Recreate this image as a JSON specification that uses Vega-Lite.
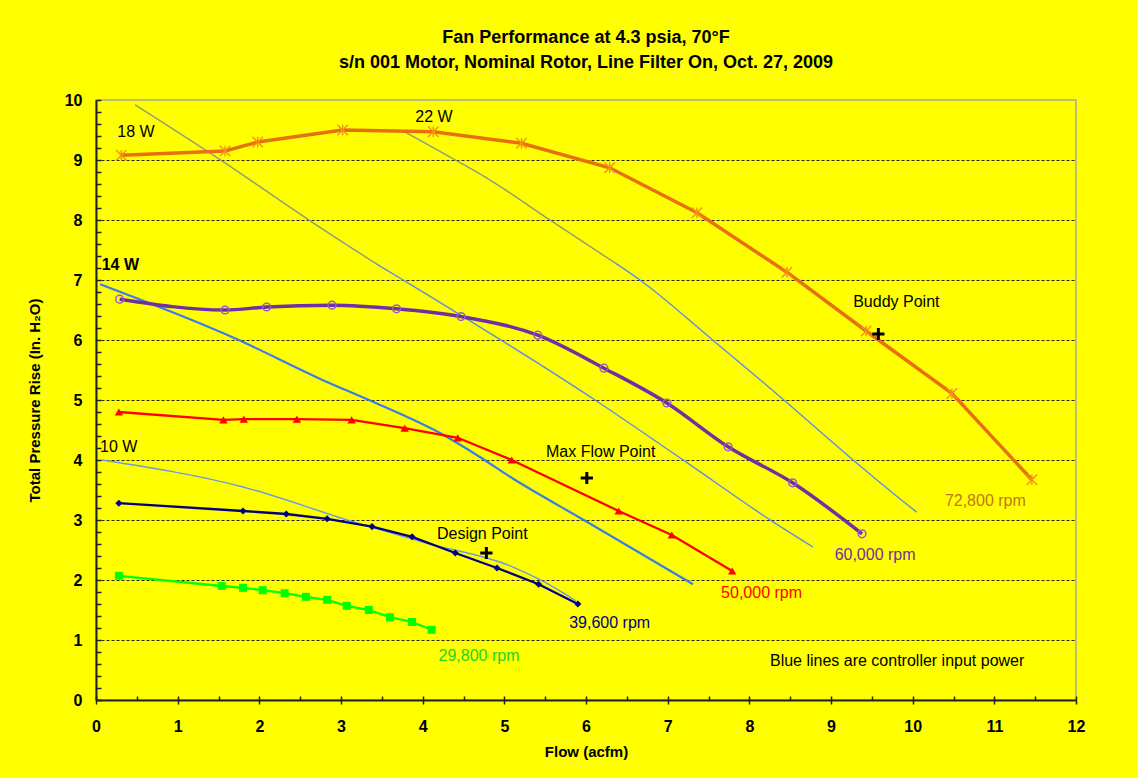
{
  "$schema": "https://vega.github.io/schema/vega-lite/v6.json",
  "width": 980,
  "height": 600,
  "autosize": "none",
  "padding": {"left": 96, "top": 100, "right": 62, "bottom": 78},
  "background": "#ffff00",
  "title": {
    "text": ["Fan Performance at 4.3 psia, 70°F", "s/n 001 Motor, Nominal Rotor, Line Filter On, Oct. 27, 2009"],
    "font": "Liberation Sans",
    "fontSize": 18,
    "fontWeight": "bold",
    "lineHeight": 25,
    "anchor": "middle",
    "frame": "group",
    "offset": 20,
    "color": "#000000"
  },
  "config": {
    "view": {"stroke": "#a8a8a8", "strokeWidth": 1.5},
    "font": "Liberation Sans"
  },
  "datasets": {
    "curves": [
      {"s": "72800", "flow": 0.31, "p": 9.08},
      {"s": "72800", "flow": 1.58, "p": 9.15},
      {"s": "72800", "flow": 1.98, "p": 9.3},
      {"s": "72800", "flow": 3.02, "p": 9.5},
      {"s": "72800", "flow": 4.13, "p": 9.47},
      {"s": "72800", "flow": 5.21, "p": 9.28},
      {"s": "72800", "flow": 6.29, "p": 8.87},
      {"s": "72800", "flow": 7.36, "p": 8.12},
      {"s": "72800", "flow": 8.46, "p": 7.13},
      {"s": "72800", "flow": 9.43, "p": 6.15},
      {"s": "72800", "flow": 10.48, "p": 5.11},
      {"s": "72800", "flow": 11.46, "p": 3.67},
      {"s": "60000", "flow": 0.29, "p": 6.68},
      {"s": "60000", "flow": 1.58, "p": 6.5},
      {"s": "60000", "flow": 2.09, "p": 6.55},
      {"s": "60000", "flow": 2.89, "p": 6.58},
      {"s": "60000", "flow": 3.68, "p": 6.52},
      {"s": "60000", "flow": 4.47, "p": 6.39},
      {"s": "60000", "flow": 5.41, "p": 6.08},
      {"s": "60000", "flow": 6.22, "p": 5.53},
      {"s": "60000", "flow": 6.99, "p": 4.95},
      {"s": "60000", "flow": 7.74, "p": 4.22},
      {"s": "60000", "flow": 8.53, "p": 3.62},
      {"s": "60000", "flow": 9.38, "p": 2.77},
      {"s": "50000", "flow": 0.28, "p": 4.8},
      {"s": "50000", "flow": 1.56, "p": 4.67},
      {"s": "50000", "flow": 1.81, "p": 4.68},
      {"s": "50000", "flow": 2.46, "p": 4.68},
      {"s": "50000", "flow": 3.13, "p": 4.67},
      {"s": "50000", "flow": 3.78, "p": 4.53},
      {"s": "50000", "flow": 4.43, "p": 4.37},
      {"s": "50000", "flow": 5.09, "p": 4.0},
      {"s": "50000", "flow": 6.4, "p": 3.15},
      {"s": "50000", "flow": 7.05, "p": 2.75},
      {"s": "50000", "flow": 7.79, "p": 2.15},
      {"s": "39600", "flow": 0.28, "p": 3.28},
      {"s": "39600", "flow": 1.8, "p": 3.15},
      {"s": "39600", "flow": 2.33, "p": 3.1},
      {"s": "39600", "flow": 2.83, "p": 3.02},
      {"s": "39600", "flow": 3.38, "p": 2.89},
      {"s": "39600", "flow": 3.87, "p": 2.72},
      {"s": "39600", "flow": 4.4, "p": 2.45},
      {"s": "39600", "flow": 4.91, "p": 2.2},
      {"s": "39600", "flow": 5.42, "p": 1.93},
      {"s": "39600", "flow": 5.9, "p": 1.6},
      {"s": "29800", "flow": 0.28, "p": 2.07},
      {"s": "29800", "flow": 1.54, "p": 1.9},
      {"s": "29800", "flow": 1.8, "p": 1.87},
      {"s": "29800", "flow": 2.04, "p": 1.83},
      {"s": "29800", "flow": 2.31, "p": 1.78},
      {"s": "29800", "flow": 2.57, "p": 1.72},
      {"s": "29800", "flow": 2.83, "p": 1.67},
      {"s": "29800", "flow": 3.07, "p": 1.57},
      {"s": "29800", "flow": 3.34, "p": 1.5},
      {"s": "29800", "flow": 3.6, "p": 1.38},
      {"s": "29800", "flow": 3.87, "p": 1.3},
      {"s": "29800", "flow": 4.11, "p": 1.17},
      {"s": "18Wa", "flow": 0.48, "p": 9.92},
      {"s": "18Wa", "flow": 1.56, "p": 8.97},
      {"s": "18Wa", "flow": 2.64, "p": 7.97},
      {"s": "18Wa", "flow": 3.42, "p": 7.28},
      {"s": "18Wb", "flow": 3.42, "p": 7.28},
      {"s": "18Wb", "flow": 3.76, "p": 7.0},
      {"s": "18Wb", "flow": 4.46, "p": 6.42},
      {"s": "18Wb", "flow": 6.11, "p": 5.0},
      {"s": "18Wb", "flow": 7.21, "p": 3.98},
      {"s": "18Wb", "flow": 8.29, "p": 2.97},
      {"s": "18Wb", "flow": 8.78, "p": 2.55},
      {"s": "22Wa", "flow": 3.78, "p": 9.47},
      {"s": "22Wa", "flow": 4.4, "p": 9.0},
      {"s": "22Wa", "flow": 4.82, "p": 8.67},
      {"s": "22Wa", "flow": 5.58, "p": 7.98},
      {"s": "22Wa", "flow": 6.36, "p": 7.28},
      {"s": "22Wb", "flow": 6.36, "p": 7.28},
      {"s": "22Wb", "flow": 6.66, "p": 7.0},
      {"s": "22Wb", "flow": 7.55, "p": 6.0},
      {"s": "22Wb", "flow": 8.38, "p": 5.05},
      {"s": "22Wb", "flow": 9.27, "p": 4.0},
      {"s": "22Wb", "flow": 9.82, "p": 3.38},
      {"s": "22Wb", "flow": 10.05, "p": 3.13},
      {"s": "14W", "flow": 0.05, "p": 6.93},
      {"s": "14W", "flow": 1.7, "p": 6.03},
      {"s": "14W", "flow": 2.78, "p": 5.33},
      {"s": "14W", "flow": 3.39, "p": 4.97},
      {"s": "14W", "flow": 4.25, "p": 4.42},
      {"s": "14W", "flow": 4.7, "p": 4.05},
      {"s": "14W", "flow": 5.07, "p": 3.72},
      {"s": "14W", "flow": 6.01, "p": 2.97},
      {"s": "14W", "flow": 7.31, "p": 1.93},
      {"s": "10W", "flow": 0.07, "p": 4.0},
      {"s": "10W", "flow": 1.8, "p": 3.55},
      {"s": "10W", "flow": 3.15, "p": 2.97},
      {"s": "10W", "flow": 4.0, "p": 2.63},
      {"s": "10W", "flow": 5.1, "p": 2.22},
      {"s": "10W", "flow": 5.5, "p": 1.96},
      {"s": "10W", "flow": 5.88, "p": 1.65}
    ],
    "plus": [
      {"name": "Buddy Point", "flow": 9.58, "p": 6.1},
      {"name": "Max Flow Point", "flow": 6.01, "p": 3.7},
      {"name": "Design Point", "flow": 4.78, "p": 2.45}
    ],
    "labels": [
      {"t": "Buddy Point", "flow": 9.8, "p": 6.63, "k": "black", "g": "c"},
      {"t": "Max Flow Point", "flow": 6.18, "p": 4.13, "k": "black", "g": "c"},
      {"t": "Design Point", "flow": 4.73, "p": 2.77, "k": "black", "g": "c"},
      {"t": "72,800 rpm", "flow": 10.89, "p": 3.32, "k": "L72800", "g": "c"},
      {"t": "60,000 rpm", "flow": 9.54, "p": 2.42, "k": "L60000", "g": "c"},
      {"t": "50,000 rpm", "flow": 8.15, "p": 1.78, "k": "L50000", "g": "c"},
      {"t": "39,600 rpm", "flow": 6.29, "p": 1.28, "k": "L39600", "g": "c"},
      {"t": "29,800 rpm", "flow": 4.69, "p": 0.73, "k": "L29800", "g": "c"},
      {"t": "Blue lines are controller input power", "flow": 9.81, "p": 0.65, "k": "black", "g": "c"},
      {"t": "18 W", "flow": 0.26, "p": 9.47, "k": "black", "g": "l"},
      {"t": "22 W", "flow": 3.91, "p": 9.72, "k": "black", "g": "l"},
      {"t": "10 W", "flow": 0.05, "p": 4.22, "k": "black", "g": "l"},
      {"t": "14 W", "flow": 0.07, "p": 7.25, "k": "black", "g": "b"}
    ]
  },
  "resolve": {"axis": {"x": "independent", "y": "independent"}},
  "layer": [
    {
      "data": {"name": "curves"},
      "mark": {"type": "point", "opacity": 0},
      "encoding": {
        "x": {"field": "flow", "type": "quantitative", "scale": {"domain": [0, 12], "nice": false}, "axis": null},
        "y": {"field": "p", "type": "quantitative", "scale": {"domain": [0, 10], "nice": false},
          "axis": {"orient": "left", "values": [1, 2, 3, 4, 5, 6, 7, 8, 9], "grid": true, "gridColor": "#000000", "gridDash": [3, 2], "gridWidth": 1, "gridOpacity": 0.85, "labels": false, "ticks": false, "domain": false, "title": null}}
      }
    },
    {
      "data": {"name": "curves"},
      "transform": [{"filter": {"field": "s", "oneOf": ["18Wa", "18Wb", "22Wa", "22Wb", "10W"]}}],
      "mark": {"type": "line", "strokeWidth": 1.4, "interpolate": "monotone"},
      "encoding": {
        "x": {"field": "flow", "type": "quantitative", "axis": null},
        "y": {"field": "p", "type": "quantitative", "axis": null},
        "detail": {"field": "s"},
        "color": {"field": "s", "type": "nominal", "legend": null,
          "scale": {"domain": ["72800", "60000", "50000", "39600", "29800", "18Wa", "18Wb", "22Wa", "22Wb", "14W", "10W", "L72800", "L60000", "L50000", "L39600", "L29800", "black"],
                    "range": ["#e8700e", "#7030a0", "#ff0000", "#000080", "#00ff00", "#8f9c78", "#5b8fe0", "#8f9c78", "#5b8fe0", "#3a7ee2", "#6c9ae2", "#c07818", "#7030a0", "#ff0000", "#000080", "#22d622", "#000000"]}}
      }
    },
    {
      "data": {"name": "curves"},
      "transform": [{"filter": {"field": "s", "oneOf": ["14W"]}}],
      "mark": {"type": "line", "strokeWidth": 2.2, "interpolate": "monotone"},
      "encoding": {
        "x": {"field": "flow", "type": "quantitative", "axis": null},
        "y": {"field": "p", "type": "quantitative", "axis": null},
        "color": {"field": "s", "type": "nominal", "legend": null}
      }
    },
    {
      "data": {"name": "curves"},
      "transform": [{"filter": {"field": "s", "oneOf": ["50000", "39600", "29800"]}}],
      "mark": {"type": "line", "strokeWidth": 2.3, "interpolate": "linear"},
      "encoding": {
        "x": {"field": "flow", "type": "quantitative", "axis": null},
        "y": {"field": "p", "type": "quantitative", "axis": null},
        "color": {"field": "s", "type": "nominal", "legend": null}
      }
    },
    {
      "data": {"name": "curves"},
      "transform": [{"filter": {"field": "s", "oneOf": ["72800"]}}],
      "mark": {"type": "line", "strokeWidth": 3.5, "interpolate": "linear"},
      "encoding": {
        "x": {"field": "flow", "type": "quantitative", "axis": null},
        "y": {"field": "p", "type": "quantitative", "axis": null},
        "color": {"field": "s", "type": "nominal", "legend": null}
      }
    },
    {
      "data": {"name": "curves"},
      "transform": [{"filter": {"field": "s", "oneOf": ["60000"]}}],
      "mark": {"type": "line", "strokeWidth": 3.5, "interpolate": "monotone"},
      "encoding": {
        "x": {"field": "flow", "type": "quantitative",
          "axis": {"orient": "bottom", "values": [0, 1, 2, 3, 4, 5, 6, 7, 8, 9, 10, 11, 12], "grid": false, "labelFlush": false, "domainColor": "#222222", "domainWidth": 2, "tickColor": "#222222", "tickWidth": 1.5, "tickSize": 4, "labelPadding": 14, "labelFont": "Liberation Sans", "labelFontSize": 16, "labelFontWeight": "bold", "labelColor": "#000000", "title": "Flow (acfm)", "titleFont": "Liberation Sans", "titleFontSize": 15, "titleFontWeight": "bold", "titleColor": "#000000", "titlePadding": 10}},
        "y": {"field": "p", "type": "quantitative",
          "axis": {"orient": "left", "values": [0, 1, 2, 3, 4, 5, 6, 7, 8, 9, 10], "grid": false, "labelFlush": false, "domainColor": "#222222", "domainWidth": 2, "ticks": false, "labelPadding": 14, "labelFont": "Liberation Sans", "labelFontSize": 16, "labelFontWeight": "bold", "labelColor": "#000000", "title": "Total Pressure Rise (In. H₂O)", "titleFont": "Liberation Sans", "titleFontSize": 15, "titleFontWeight": "bold", "titleColor": "#000000", "titlePadding": 22}},
        "color": {"field": "s", "type": "nominal", "legend": null}
      }
    },
    {
      "data": {"name": "curves"},
      "transform": [{"filter": {"field": "s", "equal": "72800"}}],
      "mark": {"type": "point", "shape": "M-1,-1L1,1M-1,1L1,-1M0,-1L0,1", "filled": false, "stroke": "#f5901c", "strokeWidth": 1.4, "size": 110, "opacity": 1},
      "encoding": {
        "x": {"field": "flow", "type": "quantitative", "axis": null},
        "y": {"field": "p", "type": "quantitative", "axis": null}
      }
    },
    {
      "data": {"name": "curves"},
      "transform": [{"filter": {"field": "s", "equal": "60000"}}],
      "mark": {"type": "point", "shape": "circle", "filled": false, "stroke": "#9a5cc8", "strokeWidth": 1.5, "size": 60, "opacity": 1},
      "encoding": {
        "x": {"field": "flow", "type": "quantitative", "axis": null},
        "y": {"field": "p", "type": "quantitative", "axis": null}
      }
    },
    {
      "data": {"name": "curves"},
      "transform": [{"filter": {"field": "s", "equal": "50000"}}],
      "mark": {"type": "point", "shape": "triangle-up", "filled": true, "color": "#ff0000", "size": 70, "opacity": 1},
      "encoding": {
        "x": {"field": "flow", "type": "quantitative", "axis": null},
        "y": {"field": "p", "type": "quantitative", "axis": null}
      }
    },
    {
      "data": {"name": "curves"},
      "transform": [{"filter": {"field": "s", "equal": "39600"}}],
      "mark": {"type": "point", "shape": "diamond", "filled": true, "color": "#000080", "size": 50, "opacity": 1},
      "encoding": {
        "x": {"field": "flow", "type": "quantitative", "axis": null},
        "y": {"field": "p", "type": "quantitative", "axis": null}
      }
    },
    {
      "data": {"name": "curves"},
      "transform": [{"filter": {"field": "s", "equal": "29800"}}],
      "mark": {"type": "point", "shape": "square", "filled": true, "color": "#00ff00", "size": 64, "opacity": 1},
      "encoding": {
        "x": {"field": "flow", "type": "quantitative", "axis": null},
        "y": {"field": "p", "type": "quantitative", "axis": null}
      }
    },
    {
      "data": {"name": "plus"},
      "mark": {"type": "point", "shape": "M-1,0L1,0M0,-1L0,1", "filled": false, "stroke": "#000000", "strokeWidth": 3, "size": 150, "opacity": 1},
      "encoding": {
        "x": {"field": "flow", "type": "quantitative", "axis": null},
        "y": {"field": "p", "type": "quantitative", "axis": null}
      }
    },
    {
      "data": {"name": "labels"},
      "transform": [{"filter": {"field": "g", "equal": "c"}}],
      "mark": {"type": "text", "align": "center", "baseline": "middle", "font": "Liberation Sans", "fontSize": 16},
      "encoding": {
        "x": {"field": "flow", "type": "quantitative", "axis": null},
        "y": {"field": "p", "type": "quantitative", "axis": null},
        "text": {"field": "t"},
        "color": {"field": "k", "type": "nominal", "legend": null}
      }
    },
    {
      "data": {"name": "labels"},
      "transform": [{"filter": {"field": "g", "equal": "l"}}],
      "mark": {"type": "text", "align": "left", "baseline": "middle", "font": "Liberation Sans", "fontSize": 16},
      "encoding": {
        "x": {"field": "flow", "type": "quantitative", "axis": null},
        "y": {"field": "p", "type": "quantitative", "axis": null},
        "text": {"field": "t"},
        "color": {"field": "k", "type": "nominal", "legend": null}
      }
    },
    {
      "data": {"name": "labels"},
      "transform": [{"filter": {"field": "g", "equal": "b"}}],
      "mark": {"type": "text", "align": "left", "baseline": "middle", "font": "Liberation Sans", "fontSize": 16, "fontWeight": "bold"},
      "encoding": {
        "x": {"field": "flow", "type": "quantitative", "axis": null},
        "y": {"field": "p", "type": "quantitative", "axis": null},
        "text": {"field": "t"},
        "color": {"field": "k", "type": "nominal", "legend": null}
      }
    },
    {
      "data": {"name": "curves"},
      "mark": {"type": "point", "opacity": 0},
      "encoding": {
        "x": {"field": "flow", "type": "quantitative",
          "axis": {"orient": "bottom", "values": [0, 0.5, 1, 1.5, 2, 2.5, 3, 3.5, 4, 4.5, 5, 5.5, 6, 6.5, 7, 7.5, 8, 8.5, 9, 9.5, 10, 10.5, 11, 11.5, 12], "grid": false, "domain": false, "labels": false, "tickSize": -4, "tickColor": "#222222", "tickWidth": 1.5, "title": null}},
        "y": {"field": "p", "type": "quantitative",
          "axis": {"orient": "left", "values": [0, 0.2, 0.4, 0.6, 0.8, 1, 1.2, 1.4, 1.6, 1.8, 2, 2.2, 2.4, 2.6, 2.8, 3, 3.2, 3.4, 3.6, 3.8, 4, 4.2, 4.4, 4.6, 4.8, 5, 5.2, 5.4, 5.6, 5.8, 6, 6.2, 6.4, 6.6, 6.8, 7, 7.2, 7.4, 7.6, 7.8, 8, 8.2, 8.4, 8.6, 8.8, 9, 9.2, 9.4, 9.6, 9.8, 10], "grid": false, "domain": false, "labels": false, "tickSize": -5, "tickColor": "#222222", "tickWidth": 1.5, "title": null}}
      }
    }
  ]
}
